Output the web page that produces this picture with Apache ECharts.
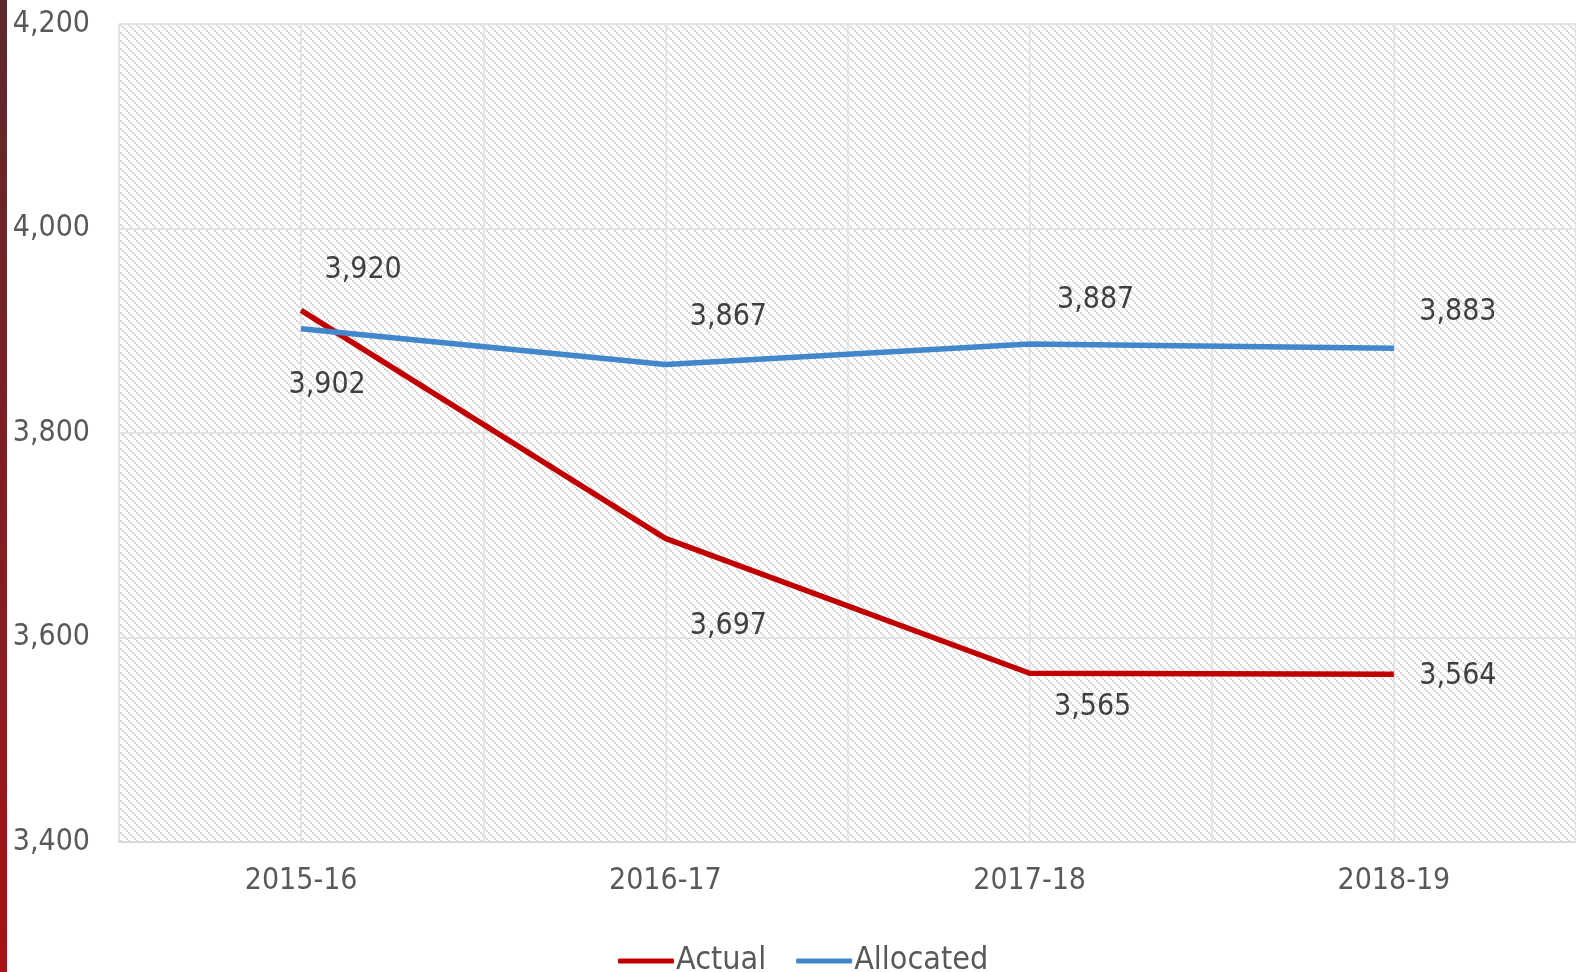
<!DOCTYPE html>
<html>
<head>
<meta charset="utf-8">
<script src="https://cdn.jsdelivr.net/npm/echarts@6/dist/echarts.min.js"></script>
<style>
  html, body { margin: 0; padding: 0; background: #fff; }
  #main { width: 1576px; height: 972px; }
</style>
</head>
<body>
<div id="main"></div>
<script>
var years = ["2015-16", "2016-17", "2017-18", "2018-19"];
var actual = [3920, 3697, 3565, 3564];
var allocated = [3902, 3867, 3887, 3883];
var yTicks = { min: 3400, max: 4200, interval: 200 };

// label placement relative to each point
var actualLabelOffset = [[62, -40], [63, 88], [63, 34], [64, 2]];
var allocLabelOffset = [[26, 56], [63, -47], [66, -44], [64, -36]];

var FONT = "'DejaVu Sans Condensed', 'DejaVu Sans', sans-serif";

// hatch pattern for the plot background: stepped diagonal lines
function makeHatch() {
  var c = document.createElement("canvas");
  c.width = 8; c.height = 8;
  var ctx = c.getContext("2d");
  ctx.fillStyle = "#ffffff";
  ctx.fillRect(0, 0, 8, 8);
  ctx.fillStyle = "#d6d6d6";
  for (var i = 0; i < 4; i++) {
    ctx.fillRect(2 * i, 2 * i, 2, 2);
  }
  return c;
}

function withLabels(values, offsets) {
  return values.map(function (v, i) {
    return { value: v, label: { offset: offsets[i] } };
  });
}

var chart = echarts.init(document.getElementById("main"));
chart.setOption({
  animation: false,
  graphic: [{
    type: "rect",
    left: 0, top: 0,
    shape: { width: 7, height: 972 },
    style: {
      fill: new echarts.graphic.LinearGradient(0, 0, 0, 1, [
        { offset: 0, color: "#5c2a2e" },
        { offset: 1, color: "#a51317" }
      ])
    }
  }],
  grid: {
    left: 119, right: 0, top: 24, bottom: 130,
    show: true,
    borderWidth: 0,
    backgroundColor: { image: makeHatch(), repeat: "repeat" }
  },
  legend: {
    data: ["Actual", "Allocated"],
    left: 613, top: 940,
    icon: "roundRect",
    itemWidth: 56, itemHeight: 5,
    itemGap: 30,
    textStyle: { fontFamily: FONT, fontSize: 32, color: "#595959", padding: [0, 0, 0, -3] }
  },
  xAxis: [{
    type: "category",
    data: years,
    axisLine: { lineStyle: { color: "#d9d9d9", width: 2 } },
    axisTick: { show: false },
    splitLine: { show: false },
    axisLabel: { fontFamily: FONT, fontSize: 30, color: "#595959", margin: 24 }
  }, {
    type: "value",
    min: 0, max: 8, interval: 1,
    position: "bottom",
    axisLine: { show: false },
    axisTick: { show: false },
    axisLabel: { show: false },
    splitLine: { show: true, lineStyle: { color: "#e4e4e4", width: 2 } }
  }],
  yAxis: {
    type: "value",
    min: yTicks.min, max: yTicks.max, interval: yTicks.interval,
    axisLine: { show: false },
    axisTick: { show: false },
    splitLine: { lineStyle: { color: "#e4e4e4", width: 2 } },
    axisLabel: {
      fontFamily: FONT, fontSize: 30, color: "#595959", margin: 29,
      padding: [4, 0, 0, 0],
      formatter: function (v) { return v.toLocaleString("en-US"); }
    }
  },
  series: [{
    name: "Actual",
    type: "line",
    data: withLabels(actual, actualLabelOffset),
    symbol: "circle", symbolSize: 1,
    lineStyle: { color: "#c00000", width: 5.5 },
    itemStyle: { color: "#c00000" },
    label: {
      show: true, position: "inside",
      fontFamily: FONT, fontSize: 30, color: "#404040",
      formatter: function (p) { return p.value.toLocaleString("en-US"); }
    },
    z: 3
  }, {
    name: "Allocated",
    type: "line",
    data: withLabels(allocated, allocLabelOffset),
    symbol: "circle", symbolSize: 1,
    lineStyle: { color: "#4286cc", width: 5.5 },
    itemStyle: { color: "#4286cc" },
    label: {
      show: true, position: "inside",
      fontFamily: FONT, fontSize: 30, color: "#404040",
      formatter: function (p) { return p.value.toLocaleString("en-US"); }
    },
    z: 4
  }]
});
window.addEventListener("resize", function () { chart.resize(); });
</script>
</body>
</html>
